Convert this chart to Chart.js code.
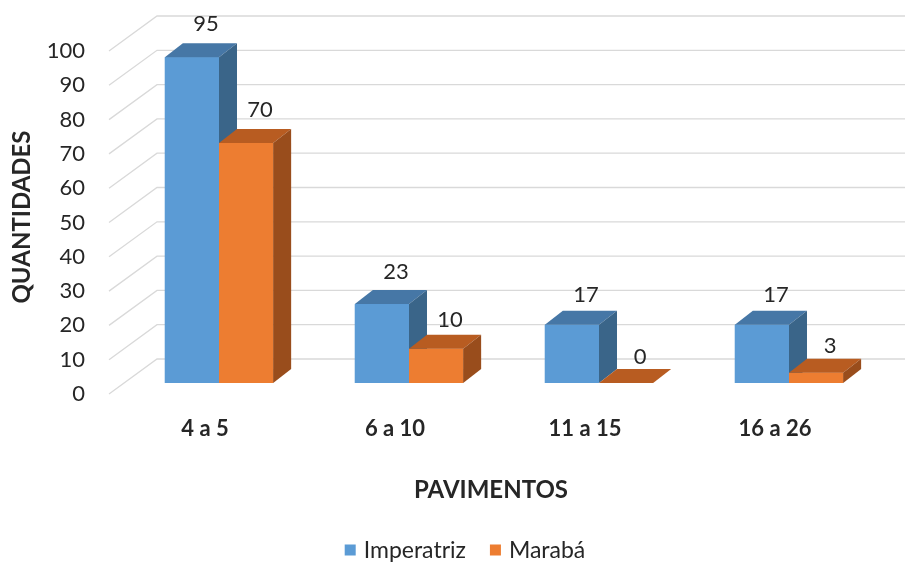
<!DOCTYPE html>
<html>
<head>
<meta charset="utf-8">
<script src="https://cdn.jsdelivr.net/npm/chart.js@4.4.0/dist/chart.umd.min.js"></script>
<style>
  html, body { margin: 0; padding: 0; background: #fff; }
</style>
</head>
<body>
<canvas id="chart" width="905" height="565"></canvas>
<script>
'use strict';

const categories = ['4 a 5', '6 a 10', '11 a 15', '16 a 26'];
const imperatriz = [95, 23, 17, 17];
const maraba = [70, 10, 0, 3];
const seriesNames = ['Imperatriz', 'Marabá'];
const yMin = 0;
const yMax = 100;
const yStep = 10;

const FONT = 'Lato';
const TEXT = '#262626';
// depth of the fake 3d box, in px
const DX = 18, DY = 14;

let canvasElem = document.getElementById('chart');

function poly(ctx, pts, color) {
    ctx.beginPath();
    ctx.moveTo(pts[0][0], pts[0][1]);
    for (let i = 1; i < pts.length; i++) ctx.lineTo(pts[i][0], pts[i][1]);
    ctx.closePath();
    ctx.fillStyle = color;
    ctx.fill();
}

const fake3d = {
    id: 'fake3d',
    beforeDatasetsDraw(chart) {
        const { ctx, chartArea, scales: { y } } = chart;
        ctx.save();
        ctx.strokeStyle = '#d9d9d9';
        ctx.lineWidth = 1.3;
        y.ticks.forEach(t => {
            const yb = y.getPixelForValue(t.value);
            ctx.beginPath();
            ctx.moveTo(chartArea.left - 15, yb + 11);
            ctx.lineTo(chartArea.left + 33, yb - 24);
            ctx.lineTo(chart.width, yb - 24);
            ctx.stroke();
        });
        ctx.restore();
    },
    afterDatasetsDraw(chart) {
        const ctx = chart.ctx;
        ctx.save();
        // redraw every bar as a box, series by series, so the later one sits in front
        chart.data.datasets.forEach((ds, di) => {
            chart.getDatasetMeta(di).data.forEach(bar => {
                const { x, y, base, width } = bar.getProps(['x', 'y', 'base', 'width'], true);
                const l = x - width / 2, r = x + width / 2;
                ctx.fillStyle = ds.backgroundColor;
                ctx.fillRect(l, y, width, base - y);
                poly(ctx, [[l, y], [r, y], [r + DX, y - DY], [l + DX, y - DY]], ds.topColor);
                if (base - y > 0.5) {
                    poly(ctx, [[r, y], [r + DX, y - DY], [r + DX, base - DY], [r, base]], ds.sideColor);
                }
            });
        });
        // value labels
        ctx.font = '22px ' + FONT;
        ctx.fillStyle = TEXT;
        ctx.textAlign = 'center';
        ctx.textBaseline = 'middle';
        chart.data.datasets.forEach((ds, di) => {
            chart.getDatasetMeta(di).data.forEach((bar, i) => {
                const v = ds.data[i];
                const { x, y } = bar.getProps(['x', 'y'], true);
                ctx.fillText(String(v), x + 14, y - DY - Math.min(19, 12 + 0.25 * v));
            });
        });
        ctx.restore();
    },
    afterDraw(chart) {
        const ctx = chart.ctx;
        ctx.save();
        ctx.fillStyle = TEXT;
        ctx.textAlign = 'center';
        ctx.textBaseline = 'middle';
        ctx.font = 'bold 24px ' + FONT;
        ctx.fillText('PAVIMENTOS', 491, 490);
        ctx.translate(22, 217);
        ctx.rotate(-Math.PI / 2);
        ctx.fillText('QUANTIDADES', 0, 0);
        ctx.restore();

        // legend
        ctx.save();
        ctx.font = '23px ' + FONT;
        ctx.textBaseline = 'middle';
        ctx.textAlign = 'left';
        const box = 11, gapBox = 8, gapItem = 24;
        const items = chart.data.datasets.map(ds => ({ label: ds.label, color: ds.backgroundColor, w: ctx.measureText(ds.label).width }));
        let total = 0;
        items.forEach((it, i) => { total += box + gapBox + it.w + (i ? gapItem : 0); });
        let lx = 465 - total / 2;
        const ly = 550;
        items.forEach(it => {
            ctx.fillStyle = it.color;
            ctx.fillRect(lx, ly - box / 2, box, box);
            ctx.fillStyle = TEXT;
            ctx.fillText(it.label, lx + box + gapBox, ly + 1);
            lx += box + gapBox + it.w + gapItem;
        });
        ctx.restore();
    }
};

function renderChart() {
    const chartConfig = {
        type: 'bar',
        data: {
            labels: categories,
            datasets: [{
                label: seriesNames[0],
                data: imperatriz,
                backgroundColor: '#5b9bd5',
                topColor: '#4677a6',
                sideColor: '#3a6589',
                categoryPercentage: 0.57,
                barPercentage: 1,
            },
            {
                label: seriesNames[1],
                data: maraba,
                backgroundColor: '#ed7d31',
                topColor: '#b85c21',
                sideColor: '#994d1c',
                categoryPercentage: 0.57,
                barPercentage: 1,
            }]
        },
        options: {
            responsive: false,
            animation: false,
            devicePixelRatio: 1,
            layout: { padding: { top: 40, right: 21, left: 0, bottom: 0 } },
            plugins: {
                legend: { display: false },
                tooltip: { enabled: false },
            },
            scales: {
                x: {
                    grid: { display: false, drawTicks: false },
                    border: { display: false },
                    ticks: {
                        color: TEXT,
                        font: { family: FONT, size: 22, weight: 'bold' },
                        padding: 33,
                        labelOffset: -14,
                    },
                    afterFit(s) { s.height = 182; }
                },
                y: {
                    min: yMin,
                    max: yMax,
                    grid: { display: false, drawTicks: false },
                    border: { display: false },
                    ticks: {
                        stepSize: yStep,
                        color: TEXT,
                        font: { family: FONT, size: 22 },
                        padding: 39,
                        labelOffset: 11,
                    },
                    afterFit(s) {
                        s.width = 124;
                        s.paddingTop = 0;
                        s.paddingBottom = 0;
                    }
                },
            }
        },
        plugins: [fake3d]
    };
    new Chart(canvasElem, chartConfig);
}

renderChart();
</script>
</body>
</html>
